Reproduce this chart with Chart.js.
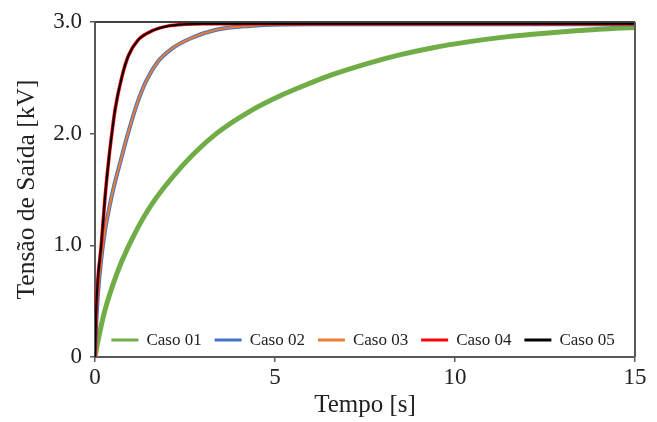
<!DOCTYPE html>
<html>
<head>
<meta charset="utf-8">
<script src="https://cdn.jsdelivr.net/npm/chart.js@4.4.1/dist/chart.umd.min.js"></script>
<style>
  html, body { margin: 0; padding: 0; background: #fff; }
  #wrap { width: 657px; height: 422px; }
</style>
</head>
<body>
<div id="wrap"><canvas id="c" width="657" height="422"></canvas></div>
<script>
// ---- data ----
const seriesNames = ['Caso 01', 'Caso 02', 'Caso 03', 'Caso 04', 'Caso 05'];
const seriesColors = ['#70AD47', '#4472C4', '#ED7D31', '#FF0000', '#000000'];

const caso01T = [0, 0.08, 0.26, 0.6, 0.9, 1.5, 2.45, 3.37, 4.3, 5.22, 5.96, 6.61, 7.54, 8.46, 9.39, 10.31, 11.24, 12.16, 13.09, 14.0, 15];
const caso01V = [0, 0.14, 0.40, 0.74, 0.97, 1.33, 1.72, 2.0, 2.2, 2.35, 2.45, 2.53, 2.625, 2.705, 2.77, 2.82, 2.86, 2.89, 2.915, 2.935, 2.95];

const caso02T = [0, 0.05, 0.22, 0.46, 0.74, 0.88, 1.16, 1.42, 1.76, 2.13, 2.63, 3.37, 4.3, 5.2, 6.0, 15];
const caso02V = [0, 0.4, 1.0, 1.435, 1.79, 1.96, 2.26, 2.47, 2.65, 2.76, 2.85, 2.93, 2.965, 2.978, 2.98, 2.98];

const caso03T = [0, 0.05, 0.22, 0.46, 0.74, 0.88, 1.16, 1.42, 1.76, 2.13, 2.63, 3.37, 4.3, 5.2, 6.0, 15];
const caso03V = [0, 0.4, 1.0, 1.435, 1.79, 1.96, 2.26, 2.47, 2.65, 2.76, 2.85, 2.93, 2.965, 2.978, 2.98, 2.98];

const caso04T = [0, 0.03, 0.08, 0.17, 0.28, 0.39, 0.46, 0.56, 0.74, 0.93, 1.2, 1.58, 2.04, 2.5, 3.0, 15];
const caso04V = [0, 0.4, 0.7, 0.99, 1.435, 1.79, 1.98, 2.22, 2.5, 2.7, 2.84, 2.92, 2.965, 2.98, 2.985, 2.985];

const caso05T = [0, 0.03, 0.08, 0.17, 0.28, 0.39, 0.46, 0.56, 0.74, 0.93, 1.2, 1.58, 2.04, 2.5, 3.0, 15];
const caso05V = [0, 0.4, 0.7, 0.99, 1.435, 1.79, 1.98, 2.22, 2.5, 2.7, 2.84, 2.92, 2.965, 2.98, 2.985, 2.985];

const xTickLabels = ['0', '5', '10', '15'];
const yTickLabels = ['0', '1.0', '2.0', '3.0'];
// --------------------------------------

const FONT = '"Liberation Serif", "Times New Roman", serif';
const TEXT = '#222222';
const AXIS = '#595959';

function pts(t, v) { return t.map((x, i) => ({ x: x, y: v[i] })); }

const allT = [caso01T, caso02T, caso03T, caso04T, caso05T];
const allV = [caso01V, caso02V, caso03V, caso04V, caso05V];
const widths = [5, 4, 2, 3.5, 2];
const orders = [4, 3, 2, 1, 0];

const datasets = seriesNames.map((name, i) => ({
  label: name,
  data: pts(allT[i], allV[i]),
  borderColor: seriesColors[i],
  backgroundColor: seriesColors[i],
  borderWidth: widths[i],
  pointRadius: 0,
  fill: false,
  cubicInterpolationMode: 'monotone',
  order: orders[i]
}));

const framePlugin = {
  id: 'frameAndLegend',
  afterDatasetsDraw(chart) {
    const a = chart.chartArea;
    const ctx = chart.ctx;
    ctx.save();
    ctx.strokeStyle = '#404040';
    ctx.lineWidth = 2;
    ctx.beginPath();
    ctx.moveTo(a.left, a.top);
    ctx.lineTo(a.right, a.top);
    ctx.stroke();
    ctx.strokeStyle = AXIS;
    ctx.beginPath();
    ctx.moveTo(a.right, a.top);
    ctx.lineTo(a.right, a.bottom);
    ctx.stroke();

    // legend inside the plot area, bottom centred
    ctx.font = '17px ' + FONT;
    ctx.textBaseline = 'middle';
    ctx.textAlign = 'left';
    const lineLen = 27, gap = 8, itemGap = 13;
    const ds = chart.data.datasets;
    const tw = ds.map(d => ctx.measureText(d.label).width);
    let total = 0;
    tw.forEach(w => total += lineLen + gap + w);
    total += itemGap * (ds.length - 1);
    let x = (a.left + a.right) / 2 - total / 2 - 2;
    const y = a.bottom - 17;
    ds.forEach((d, i) => {
      ctx.strokeStyle = d.borderColor;
      ctx.lineWidth = 3;
      ctx.beginPath();
      ctx.moveTo(x, y);
      ctx.lineTo(x + lineLen, y);
      ctx.stroke();
      ctx.fillStyle = TEXT;
      ctx.fillText(d.label, x + lineLen + gap, y + 1);
      x += lineLen + gap + tw[i] + itemGap;
    });
    ctx.restore();
  }
};

new Chart(document.getElementById('c'), {
  type: 'line',
  data: { datasets: datasets },
  options: {
    responsive: false,
    animation: false,
    layout: { padding: { top: 22, right: 22, left: 0, bottom: 0 } },
    plugins: { legend: { display: false }, tooltip: { enabled: false } },
    scales: {
      x: {
        type: 'linear', min: 0, max: 15,
        ticks: {
          stepSize: 5, color: TEXT, padding: 2,
          font: { family: FONT, size: 23 },
          callback: (v, i) => xTickLabels[i]
        },
        grid: { drawOnChartArea: false, drawTicks: true, tickLength: 5, color: AXIS, lineWidth: 1.5 },
        border: { color: AXIS, width: 2 },
        title: { display: true, text: 'Tempo [s]', color: TEXT, font: { family: FONT, size: 25 }, padding: { top: 0, bottom: 2 } },
        afterFit: s => { s.height = 65; }
      },
      y: {
        type: 'linear', min: 0, max: 3,
        ticks: {
          stepSize: 1, color: TEXT, padding: 8,
          font: { family: FONT, size: 23 },
          callback: (v, i) => yTickLabels[i]
        },
        grid: { drawOnChartArea: false, drawTicks: true, tickLength: 5, color: AXIS, lineWidth: 1.5 },
        border: { color: AXIS, width: 2 },
        title: { display: true, text: 'Tensão de Saída [kV]', color: TEXT, font: { family: FONT, size: 25.5 }, padding: { top: 12, bottom: 0 } },
        afterFit: s => { s.width = 95; }
      }
    }
  },
  plugins: [framePlugin]
});
</script>
</body>
</html>
